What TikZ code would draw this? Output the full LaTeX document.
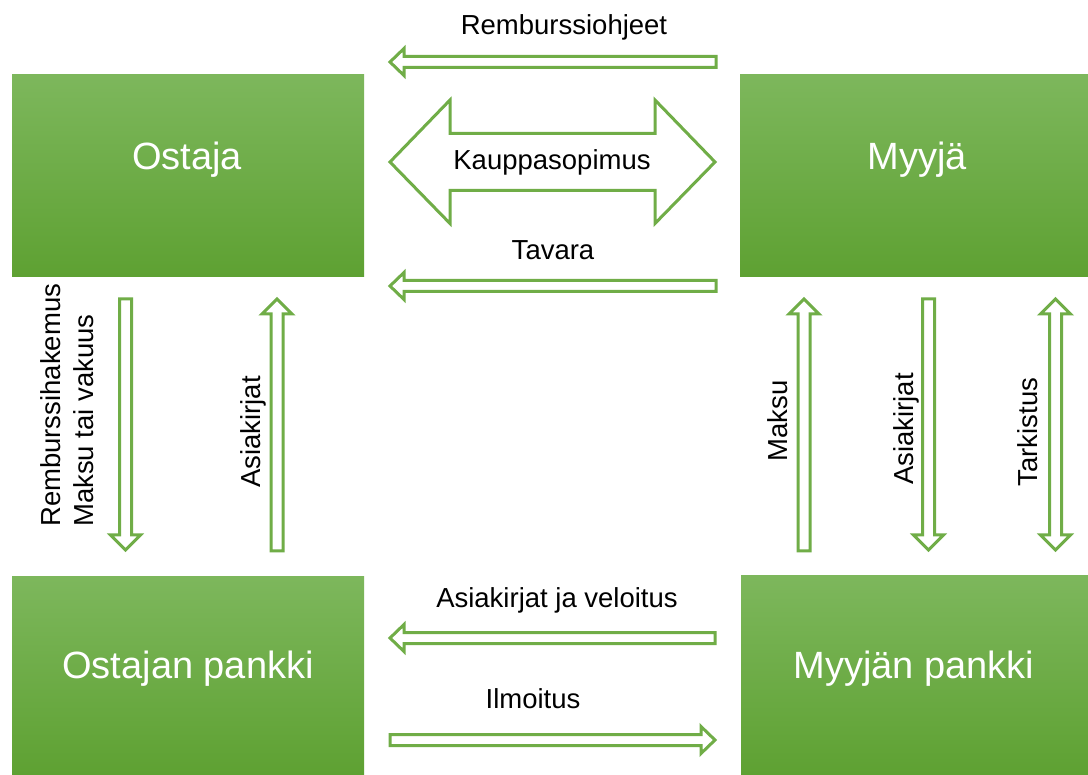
\documentclass[tikz,border=0pt]{standalone}
\usepackage{fontspec}
\setmainfont{Liberation Sans}
\definecolor{agreen}{RGB}{112,173,71}
\definecolor{gtop}{RGB}{125,183,92}
\definecolor{gbot}{RGB}{94,161,50}
\newcommand\lblfont{\fontsize{27.5}{33}\selectfont}
\newcommand\boxfont{\fontsize{38}{45}\selectfont}
% horizontal arrow pointing left: tip x, tail x, y
\newcommand\hleft[3]{\draw[blk] (#1,#3) -- ({#1+14},{#3-13.5}) -- ({#1+14},{#3-5.5}) -- (#2,{#3-5.5}) -- (#2,{#3+5.5}) -- ({#1+14},{#3+5.5}) -- ({#1+14},{#3+13.5}) -- cycle;}
% horizontal arrow pointing right: tip x, tail x, y
\newcommand\hright[3]{\draw[blk] (#1,#3) -- ({#1-14},{#3-13.5}) -- ({#1-14},{#3-5.5}) -- (#2,{#3-5.5}) -- (#2,{#3+5.5}) -- ({#1-14},{#3+5.5}) -- ({#1-14},{#3+13.5}) -- cycle;}
% vertical arrow pointing down: x, top, tip
\newcommand\vdown[3]{\draw[blk] (#1,#3) -- ({#1-15},{#3-15}) -- ({#1-6},{#3-15}) -- ({#1-6},#2) -- ({#1+6},#2) -- ({#1+6},{#3-15}) -- ({#1+15},{#3-15}) -- cycle;}
% vertical arrow pointing up: x, tip, bottom
\newcommand\vup[3]{\draw[blk] (#1,#2) -- ({#1-15},{#2+15}) -- ({#1-6},{#2+15}) -- ({#1-6},#3) -- ({#1+6},#3) -- ({#1+6},{#2+15}) -- ({#1+15},{#2+15}) -- cycle;}
% vertical double arrow: x, top tip, bottom tip
\newcommand\vboth[3]{\draw[blk] (#1,#2) -- ({#1-15},{#2+15}) -- ({#1-6},{#2+15}) -- ({#1-6},{#3-15}) -- ({#1-15},{#3-15}) -- (#1,#3) -- ({#1+15},{#3-15}) -- ({#1+6},{#3-15}) -- ({#1+6},{#2+15}) -- ({#1+15},{#2+15}) -- cycle;}
\begin{document}
\begin{tikzpicture}[x=1pt,y=-1pt,
  box/.style={draw=none, top color=gtop, bottom color=gbot, inner sep=0pt, rectangle},
  blk/.style={draw=agreen, line width=3pt, fill=white, line join=miter},
  lab/.style={font=\lblfont, inner sep=0pt, text=black},
  blab/.style={font=\boxfont, inner sep=0pt, text=white}]
\useasboundingbox (0,0) rectangle (1088,775);
\fill[white] (0,0) rectangle (1088,775);

% boxes
\node[box, minimum width=352pt, minimum height=202pt] (ostaja) at (188,176) {};
\node[box, minimum width=348pt, minimum height=202pt] (myyja) at (914,176) {};
\node[box, minimum width=352pt, minimum height=198pt] (opankki) at (188,676) {};
\node[box, minimum width=347pt, minimum height=199pt] (mpankki) at (914.5,675.5) {};

\node[blab, anchor=base] (tostaja) at (187,170) {Ostaja};
\node[blab, anchor=base] (tmyyja) at (917,170) {Myyjä};
\node[blab, anchor=base] (topankki) at (188,678) {Ostajan pankki};
\node[blab, anchor=base] (tmpankki) at (914,678) {Myyjän pankki};

% horizontal arrows
\hleft{390}{716}{62}
\node[lab, anchor=base] (lrem) at (564,35) {Remburssiohjeet};

\draw[blk] (390,162) -- (450,100) -- (450,133.5) -- (655,133.5) -- (655,100) -- (715,162)
  -- (655,223.5) -- (655,190.5) -- (450,190.5) -- (450,223.5) -- cycle;
\node[lab, anchor=base] (lkaup) at (552,170) {Kauppasopimus};

\hleft{390}{716}{286}
\node[lab, anchor=base] (ltav) at (553,260) {Tavara};

\hleft{390}{715}{638}
\node[lab, anchor=base] (lasve) at (557,608) {Asiakirjat ja veloitus};

\hright{715}{390}{740}
\node[lab, anchor=base] (lilm) at (533,708) {Ilmoitus};

% vertical arrows left
\vdown{125.5}{299}{550}
\node[lab, rotate=90, anchor=base west] (lrh) at (60,527) {Remburssihakemus};
\node[lab, rotate=90, anchor=base west] (lmtv) at (93,527) {Maksu tai vakuus};

\vup{277}{299}{551}
\node[lab, rotate=90, anchor=base] (lask1) at (260,432) {Asiakirjat};

% vertical arrows right
\vup{804}{299}{551}
\node[lab, rotate=90, anchor=base] (lmaksu) at (787,421) {Maksu};

\vdown{928.5}{299}{550}
\node[lab, rotate=90, anchor=base] (lask2) at (913,429) {Asiakirjat};

\vboth{1055.5}{299}{550}
\node[lab, rotate=90, anchor=base] (ltark) at (1037,432) {Tarkistus};
\end{tikzpicture}
\end{document}
